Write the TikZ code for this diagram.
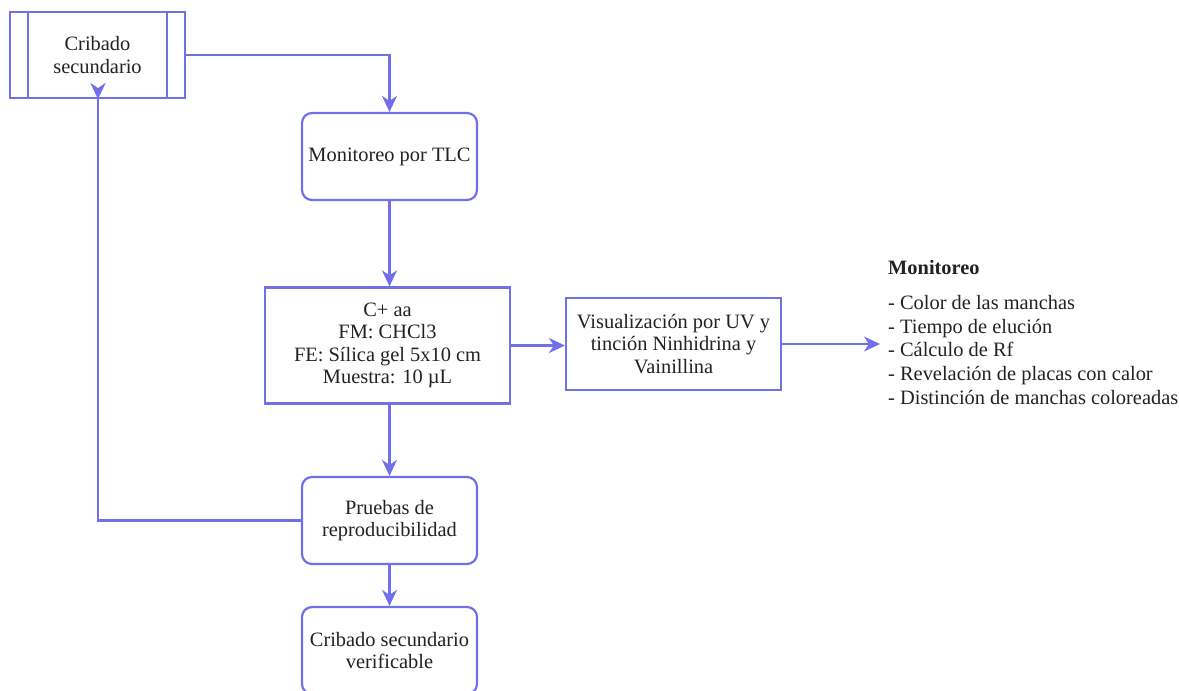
\documentclass[tikz,border=0pt]{standalone}
\usepackage{fontspec}
\setmainfont{Liberation Serif}
\usetikzlibrary{arrows.meta,positioning}
\definecolor{flow}{RGB}{112,112,232}
\definecolor{ink}{RGB}{34,34,34}
\tikzset{
  box/.style={draw=flow, line width=2.2pt, fill=white, text=ink, align=center,
    inner sep=2pt, font=\fontsize{20.4}{22.5}\selectfont},
  roundbox/.style={box, rounded corners=10pt},
  link/.style={draw=flow, line width=2.2pt,
    -{Stealth[length=16pt, width=15pt, inset=5pt]}},
  plain/.style={draw=flow, line width=2.2pt},
}
\begin{document}
\begin{tikzpicture}[x=1pt, y=-1pt]
\useasboundingbox (0,0) rectangle (1179,691);

% predefined-process box with its two inner bars
\node[box, minimum width=175pt, minimum height=86pt] (crib) at (97.5,55) {Cribado\\secundario};
\draw[plain] (28,12) -- (28,98);
\draw[plain] (167,12) -- (167,98);

\node[roundbox, minimum width=175pt, minimum height=87pt] (tlc) at (389.5,156.5) {Monitoreo por TLC};
\node[box, minimum width=245pt, minimum height=116pt] (cond) at (387.5,345.5)
  {C+ aa\\FM: CHCl3\\FE: Sílica gel 5x10 cm\\Muestra: 10 µL};
\node[box, minimum width=215pt, minimum height=92pt] (vis) at (673.5,344)
  {Visualización por UV y\\tinción Ninhidrina y\\Vainillina};
\node[roundbox, minimum width=175pt, minimum height=87pt] (rep) at (389.5,520.5) {Pruebas de\\reproducibilidad};
\node[roundbox, minimum width=175pt, minimum height=87pt] (ver) at (389.5,650.5) {Cribado secundario\\verificable};

% observation list
\node[anchor=west, inner sep=0pt, text=ink, font=\bfseries\fontsize{20.4}{24}\selectfont] (montit) at (888,268) {Monitoreo};
\node[anchor=north west, inner sep=0pt, align=left, text=ink, font=\fontsize{20.4}{23.8}\selectfont] (monlist) at (888,295)
  {- Color de las manchas\\- Tiempo de elución\\- Cálculo de Rf\\- Revelación de placas con calor\\- Distinción de manchas coloreadas};
\coordinate (monin) at (880,344);

% connectors
\draw[link] (crib.east) -| (tlc.north);
\draw[link] (tlc.south) -- (tlc.south |- cond.north);
\draw[link] (cond.east) -- (cond.east -| vis.west);
\draw[link] (vis.east) -- (monin);
\draw[link] (cond.south -| tlc.south) -- (rep.north);
\draw[link] (rep.south) -- (ver.north);
\draw[link] (rep.west) -| (98,98) -- (crib.south -| 98,0);
\end{tikzpicture}
\end{document}
